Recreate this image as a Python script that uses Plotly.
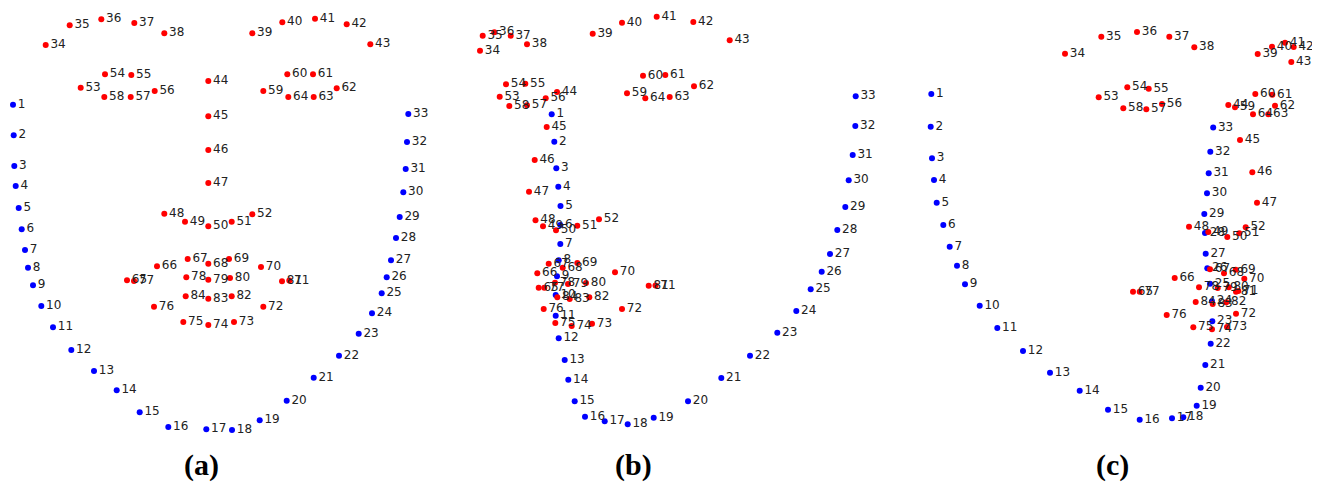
import plotly.graph_objects as go

point_ids = list(range(1, 85))
panel_labels = ["(a)", "(b)", "(c)"]
panel_label_x = [201, 633, 1112]
panel_label_y = 465

x_a = [13, 13.7, 14.3, 15.7, 18.7, 21.7, 25, 28, 33, 41.3, 53, 71.3, 94, 116.7, 139.7, 168.3, 206.3, 232, 259.7, 286.7,
       313.7, 339, 358.7, 372, 381.7, 386.7, 391, 396, 399.7, 403.3, 405.7, 407, 408.3,
       45.7, 69.7, 101.3, 134.3, 164.3, 252.3, 282.3, 315, 346.7, 370.3,
       208.3, 208.3, 208.3, 208.3, 164.3, 185, 208.3, 231.7, 252.3,
       80.7, 105, 131.3, 154.7, 130.7, 104.3, 263.3, 287.3, 313, 336.7, 313.7, 288.3,
       127, 157, 187.7, 208.3, 229, 261, 289.3, 263.3, 234, 208.3, 183.3, 154,
       134, 186.3, 208.3, 230, 282, 231.7, 208.3, 185.7]
y_a = [104.7, 135.3, 166, 186, 208, 229.3, 250, 267.7, 285.3, 306, 327.3, 350, 371, 390.3, 412.3, 427, 429.3, 430, 420.3, 400.7,
       377.7, 355.7, 333.7, 313.3, 293.3, 277.3, 260.3, 238, 217, 192.3, 169, 142, 114,
       45, 25.3, 19.3, 23, 33.3, 33.3, 22.3, 18.7, 24.3, 44.3,
       81, 116.3, 150, 183, 213.7, 221.7, 226.3, 221.7, 214.3,
       87.7, 74.3, 75, 91, 97, 97, 91, 74.3, 74.3, 88.3, 97, 97,
       280.3, 266.3, 259, 263.7, 259, 267, 280.5, 306.7, 322, 325, 322, 306.7,
       281, 277.3, 279.7, 278, 281.3, 296.3, 298.7, 296.3]

x_b = [551.7, 554.3, 556.3, 558.3, 560.5, 560.3, 560.3, 558.7, 557, 555.7, 555.7, 558.7, 564.7, 568.3, 574.7, 585, 604.7, 627.7, 653.7, 688,
       721.3, 750, 777.3, 796.3, 810.7, 821.7, 830, 837.3, 845.3, 848.7, 852.7, 855.3, 855.7,
       480, 482.7, 494.3, 510.7, 527, 592.7, 622, 656.7, 693.3, 729.7,
       557, 546.7, 534.7, 529, 535.5, 543, 556, 577.3, 599,
       499.7, 506, 525.3, 545.7, 527, 509.3, 627, 643, 665.3, 694, 669.7, 645.3,
       538.7, 537.3, 548.7, 562.7, 577.3, 615, 655.5, 622, 592, 571.7, 555.3, 543.7,
       544.3, 555, 568, 586, 648.7, 589.3, 569.7, 557.3]
y_b = [114.3, 141.7, 168.3, 186.7, 206, 225, 244, 260.3, 276.3, 295, 315.7, 338.3, 360, 379.7, 401.3, 416.7, 421.3, 424.3, 417.7, 401.3,
       378, 355.7, 332.7, 311, 289.3, 271.7, 254, 230, 207, 180.3, 155, 126, 96.3,
       50.7, 35.7, 32.3, 35.7, 44.3, 33.7, 22.7, 16.7, 22, 40.3,
       92, 127, 160, 191.7, 220.2, 226.3, 230.3, 225.7, 219.2,
       96.7, 84.3, 83.7, 98.3, 105.3, 106, 93.3, 75.7, 75, 86.3, 97, 98.3,
       287.7, 273.3, 263.7, 267.7, 263, 272.3, 285.5, 309, 323.7, 326, 323, 309,
       287.7, 282.7, 284, 283, 285.7, 297.3, 299, 297.3]

x_c = [931.3, 930.7, 932, 934, 936.7, 943.3, 949.7, 957, 965, 979.7, 997.3, 1023, 1050, 1079.7, 1108, 1139.7, 1172, 1183.3, 1196.7, 1200.7,
       1205.3, 1210.7, 1212.3, 1212, 1210, 1207.3, 1205.7, 1205, 1204.3, 1207, 1208.7, 1210.3, 1213.2,
       1065, 1101.3, 1137, 1169.3, 1194.3, 1257.7, 1272, 1285, 1293.7, 1291.3,
       1228.3, 1240, 1252.3, 1257, 1189, 1208.3, 1227.3, 1239.3, 1245.7,
       1098.7, 1127.3, 1148.7, 1162, 1146.3, 1123.3, 1235, 1255.3, 1272.3, 1275, 1268.3, 1253,
       1133, 1174.7, 1210, 1224, 1235.7, 1244.3, 1238.3, 1236, 1227, 1212, 1193.3, 1166.7,
       1139.7, 1199, 1217.7, 1228.7, 1236, 1226.3, 1212.7, 1195.7]
y_c = [94, 126.7, 158.3, 180, 202.7, 225, 246.7, 265.7, 284.3, 305.7, 328, 351, 372.7, 390.7, 409.7, 419.7, 418.3, 417.3, 405.7, 387.7,
       365, 343.7, 321.3, 301.3, 283.7, 268.3, 253.7, 233, 214, 193.3, 173.3, 151.7, 127.5,
       53.7, 36.7, 32, 36.7, 47.3, 54, 46.7, 42.7, 47, 62,
       105, 140, 172.3, 202.7, 226.7, 232, 237, 233.3, 227.3,
       97.3, 87.3, 88.7, 104, 109.3, 108.3, 107.3, 94, 94.7, 105.7, 114.3, 114.3,
       291.7, 278, 269.3, 273.3, 269.7, 278.7, 291, 313.7, 327, 329.3, 327.3, 315,
       291.7, 287.3, 288, 287.3, 291.7, 302.3, 304, 302]

contour_count = 33

# the page body has an 8px default margin; offset the axis ranges so 1 unit = 1 screen pixel
page_offset = 8

fig = go.Figure()
for xs, ys in [(x_a, y_a), (x_b, y_b), (x_c, y_c)]:
    colors = ["#0000ff" if i <= contour_count else "#ff0000" for i in point_ids]
    fig.add_trace(go.Scatter(
        x=xs, y=ys, mode="markers+text",
        text=[str(i) for i in point_ids],
        textposition="middle right",
        textfont=dict(family="DejaVu Sans", size=12, color="#222222"),
        marker=dict(size=6, color=colors, line=dict(width=0)),
        showlegend=False, hoverinfo="skip", cliponaxis=False,
    ))

for lab, lx in zip(panel_labels, panel_label_x):
    fig.add_annotation(x=lx, y=panel_label_y, text="<b>" + lab + "</b>", showarrow=False,
                       font=dict(family="Liberation Serif", size=30, color="#000000"),
                       borderpad=0, xref="x", yref="y")

fig.update_layout(
    width=1320 - page_offset, height=483 - page_offset,
    margin=dict(l=0, r=0, t=0, b=0),
    paper_bgcolor="white", plot_bgcolor="white",
    xaxis=dict(range=[page_offset, 1320], visible=False),
    yaxis=dict(range=[483, page_offset], visible=False),
)
fig.write_html("out.html")
